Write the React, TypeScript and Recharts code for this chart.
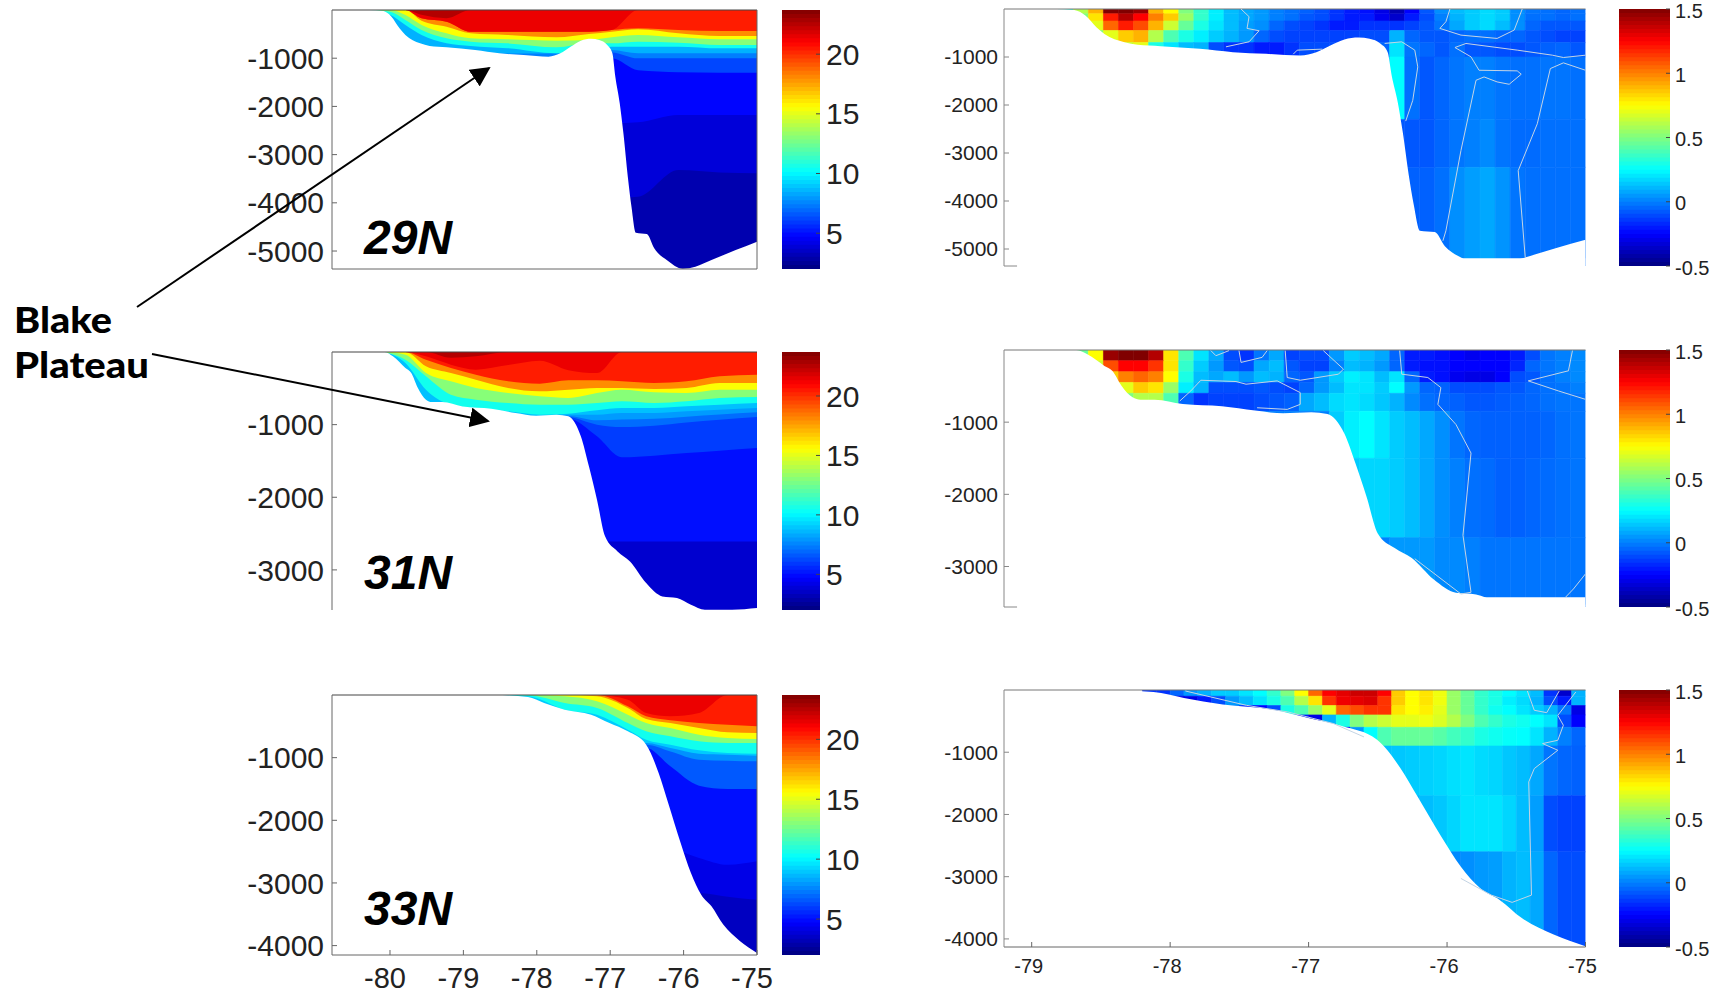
import { Area, Bar, Cell, ComposedChart, ReferenceLine, Scatter, XAxis, YAxis } from 'recharts';

// ---- seafloor, lon / depth in metres ----
const floorLon29 = [-80.79, -80.29, -80.09, -79.98, -79.87, -79.79, -79.59, -79.46, -79.23, -78.84, -78.51, -78.18, -77.84, -77.68, -77.54, -77.4, -77.26, -77.15, -77.04, -76.97, -76.93, -76.87, -76.82, -76.76, -76.71, -76.65, -76.5, -76.4, -76.23, -76.01, -75.84, -75.62, -75.29, -75];
const floorDepth29 = [0, 0, 21, 138, 380, 519, 692, 747, 775, 830, 899, 934, 968, 899, 761, 636, 595, 622, 726, 899, 1383, 1936, 2559, 3458, 4080, 4620, 4648, 4945, 5187, 5367, 5325, 5187, 4980, 4807];
const floorLon31 = [-80.79, -80.07, -79.96, -79.79, -79.71, -79.62, -79.51, -79.43, -79.29, -79.01, -78.62, -78.29, -78.01, -77.73, -77.57, -77.4, -77.29, -77.18, -77.07, -76.9, -76.73, -76.51, -76.29, -76.09, -75.9, -75.71, -75.34, -75];
const floorDepth31 = [0, 0, 60, 220, 290, 495, 656, 689, 689, 749, 780, 840, 877, 863, 886, 1161, 1574, 2034, 2538, 2745, 2883, 3181, 3365, 3388, 3480, 3548, 3548, 3525];
const floorLon33 = [-80.79, -78.57, -78.12, -77.9, -77.62, -77.26, -77.01, -76.76, -76.51, -76.34, -76.21, -76.04, -75.9, -75.76, -75.62, -75.46, -75.23, -75];
const floorDepth33 = [0, 0, 32, 128, 234, 314, 447, 580, 793, 1245, 1724, 2362, 2841, 3187, 3373, 3665, 3931, 4118];

// ---- temperature of each filled band ----
const bandNames = ['navy', 'deep', 'blue', 'azure', 'steel', 'sky', 'cyan', 'green', 'yellow', 'orange', 'red', 'crimson', 'maroon'];
const bandTemps29 = [3, 3.9, 4.8, 6.2, 7.4, 8.5, 10.5, 13, 15.5, 18, 20.4, 21.4, 22.6];
const bandTemps31 = [3.7, 5, 6, 7, 8, 8.8, 10.5, 13, 15.5, 18, 20.4, 21.4, 22.6];
const bandTemps33 = [3.4, 4.2, 5, 6.6, 7.8, 9, 10.5, 13, 15.5, 18, 20.4, 21.4, 22.6];

// ---- 29N: lower edge of each band ----
const bandLon29 = [-80.29, -80, -79.79, -79.57, -79.23, -78.9, -78.4, -77.73, -77.29, -76.98, -76.62, -76.07, -75.51, -75];
const bands29 = [
  [5373, 5373, 5373, 5373, 5373, 5373, 5373, 5373, 5373, 5373, 5373, 5373, 5373, 5373],
  [3900, 3900, 3900, 3900, 3900, 3900, 3900, 3900, 3900, 3900, 3873, 3320, 3370, 3389],
  [2351, 2351, 2351, 2351, 2351, 2351, 2351, 2351, 2351, 2351, 2330, 2178, 2178, 2178],
  [1300, 1300, 1300, 1300, 1300, 1300, 1300, 1300, 1300, 1000, 1250, 1290, 1300, 1300],
  [1003, 1003, 1003, 1003, 1003, 1003, 1003, 1003, 1003, 880, 1003, 1003, 1003, 1003],
  [900, 900, 900, 900, 900, 900, 900, 900, 900, 830, 899, 899, 899, 899],
  [0, 100, 311, 519, 692, 747, 795, 899, 830, 761, 761, 761, 795, 795],
  [0, 35, 207, 415, 588, 657, 692, 775, 692, 692, 657, 680, 726, 726],
  [0, 0, 104, 311, 484, 588, 609, 636, 622, 567, 519, 567, 609, 609],
  [0, 0, 0, 221, 346, 484, 519, 567, 498, 450, 400, 484, 539, 539],
  [0, 0, 0, 173, 242, 450, 450, 450, 450, 415, 380, 415, 436, 436],
  [0, 0, 0, 173, 242, 450, 450, 450, 450, 415, 0, 0, 0, 0],
  [0, 0, 0, 100, 170, 0, 0, 0, 0, 0, 0, 0, 0, 0],
];

// ---- 31N ----
const bandLon31 = [-80.07, -79.79, -79.51, -79.17, -78.83, -78.39, -77.96, -77.57, -77.18, -76.84, -76.4, -75.96, -75.51, -75];
const bands31 = [
  [3552, 3552, 3552, 3552, 3552, 3552, 3552, 3552, 3552, 3552, 3552, 3552, 3552, 3552],
  [2610, 2610, 2610, 2610, 2610, 2610, 2610, 2610, 2610, 2610, 2610, 2610, 2610, 2610],
  [880, 880, 880, 880, 880, 880, 880, 909, 1161, 1450, 1427, 1391, 1359, 1322],
  [880, 880, 880, 880, 880, 880, 880, 895, 1000, 1033, 1014, 969, 932, 895],
  [880, 880, 880, 880, 880, 880, 880, 880, 940, 930, 920, 890, 860, 830],
  [885, 885, 885, 885, 885, 885, 885, 863, 863, 840, 840, 817, 794, 771],
  [0, 151, 519, 725, 771, 817, 863, 849, 803, 771, 771, 748, 725, 702],
  [0, 106, 335, 588, 656, 702, 725, 725, 702, 679, 702, 679, 633, 620],
  [0, 37, 289, 404, 496, 565, 610, 633, 565, 519, 555, 565, 519, 519],
  [0, 0, 197, 289, 381, 496, 542, 519, 496, 496, 510, 496, 427, 427],
  [0, 0, 106, 220, 312, 404, 436, 390, 390, 404, 427, 404, 335, 312],
  [0, 0, 60, 174, 243, 180, 120, 250, 290, 0, 0, 0, 0, 0],
  [0, 0, 0, 80, 60, 0, 0, 0, 0, 0, 0, 0, 0, 0],
];

// ---- 33N ----
const bandLon33 = [-78.57, -78.12, -77.62, -77.18, -76.76, -76.51, -76.18, -75.79, -75.4, -75];
const bands33 = [
  [4150, 4150, 4150, 4150, 4150, 4150, 4150, 4150, 4150, 4150],
  [3200, 3200, 3200, 3200, 3200, 3200, 3200, 3160, 3220, 3270],
  [2470, 2470, 2470, 2470, 2470, 2470, 2470, 2600, 2710, 2655],
  [846, 846, 846, 846, 846, 846, 1139, 1447, 1500, 1500],
  [793, 793, 793, 793, 793, 793, 900, 1032, 1048, 1059],
  [766, 766, 766, 766, 766, 766, 846, 936, 952, 968],
  [5, 21, 234, 314, 553, 713, 793, 883, 926, 936],
  [0, 5, 128, 207, 447, 580, 660, 739, 766, 766],
  [0, 0, 21, 101, 314, 447, 527, 633, 686, 702],
  [0, 0, 0, 21, 207, 383, 447, 527, 596, 606],
  [0, 0, 0, 0, 181, 340, 404, 447, 473, 500],
  [0, 0, 0, 0, 74, 287, 340, 287, 0, 0],
];

// ---- anomaly grids, one array per depth row ----
const columnsWide = [-80.175, -80.025, -79.875, -79.725, -79.575, -79.425, -79.275, -79.125, -78.975, -78.825, -78.675, -78.525, -78.375, -78.225, -78.075, -77.925, -77.775, -77.625, -77.475, -77.325, -77.175, -77.025, -76.875, -76.725, -76.575, -76.425, -76.275, -76.125, -75.975, -75.825, -75.675, -75.525, -75.375, -75.225, -75.075];
const columnsNarrow = [-78.15, -78.05, -77.95, -77.85, -77.75, -77.65, -77.55, -77.45, -77.35, -77.25, -77.15, -77.05, -76.95, -76.85, -76.75, -76.65, -76.55, -76.45, -76.35, -76.25, -76.15, -76.05, -75.95, -75.85, -75.75, -75.65, -75.55, -75.45, -75.35, -75.25, -75.15, -75.05];

const rowEdges29 = [100, 250, 450, 700, 1000, 2300, 3300, 5354];
const anomaly29 = [
  [0.3, 0.6, 0.9, 1.5, 1.5, 1.45, 0.9, 0.75, 0.5, 0.35, 0.22, 0.12, 0.08, 0.05, 0, -0.03, -0.06, -0.1, -0.15, -0.2, -0.22, -0.3, -0.4, -0.25, -0.08, 0.03, 0.12, 0.15, 0.18, 0.15, 0.03, -0.02, -0.03, -0.05, -0.03],
  [0.3, 0.5, 0.8, 1.2, 1.4, 1.25, 1, 0.85, 0.55, 0.35, 0.22, 0.12, 0.08, 0.05, 0, -0.03, -0.08, -0.1, -0.15, -0.2, -0.2, -0.28, -0.35, -0.2, -0.1, 0, 0.1, 0.15, 0.18, 0.15, 0.03, -0.03, -0.03, -0.05, -0.03],
  [0.2, 0.4, 0.7, 1.05, 1.2, 1.1, 0.9, 0.65, 0.45, 0.3, 0.2, 0.12, 0.06, 0.03, -0.05, -0.1, -0.12, -0.15, -0.2, -0.2, -0.15, -0.15, -0.15, -0.12, -0.08, -0.02, 0.08, 0.15, 0.18, 0.12, 0.03, -0.05, -0.08, -0.08, -0.08],
  [0.2, 0.3, 0.5, 0.7, 0.85, 0.9, 0.6, 0.4, 0.3, 0.22, 0.15, 0.1, 0.05, -0.05, -0.1, -0.12, -0.12, -0.12, -0.12, -0.12, -0.1, -0.1, 0.1, -0.05, -0.08, -0.08, -0.05, -0.03, -0.03, -0.05, -0.05, -0.08, -0.1, -0.12, -0.12],
  [0.2, 0.2, 0.4, 0.5, 0.65, 0.7, 0.3, 0.2, 0.12, 0.1, -0.1, -0.15, -0.15, -0.2, -0.2, -0.15, -0.1, -0.1, -0.1, -0.1, -0.05, -0.05, 0.2, -0.02, -0.05, -0.08, -0.03, -0.08, -0.08, -0.1, -0.1, -0.08, -0.06, -0.05, -0.08],
  [0, 0, 0, 0, 0, 0, 0, 0, 0, 0, 0, 0, 0, 0, 0, 0, 0, 0, 0, 0, 0, 0, 0.25, -0.03, -0.08, -0.05, -0.02, 0, 0, -0.02, -0.03, -0.03, -0.02, -0.02, -0.03],
  [0, 0, 0, 0, 0, 0, 0, 0, 0, 0, 0, 0, 0, 0, 0, 0, 0, 0, 0, 0, 0, 0, -0.08, -0.08, -0.08, -0.05, -0.02, 0, 0.02, -0.02, -0.04, -0.04, -0.03, -0.03, -0.03],
  [0, 0, 0, 0, 0, 0, 0, 0, 0, 0, 0, 0, 0, 0, 0, 0, 0, 0, 0, 0, 0, 0, -0.06, -0.06, -0.06, -0.03, 0.03, 0.06, 0.08, 0.04, -0.02, -0.03, -0.03, -0.03, -0.03],
];

const rowEdges31 = [150, 300, 450, 600, 850, 1500, 2600, 3561];
const anomaly31 = [
  [0.2, 0.45, 0.75, 1.45, 1.5, 1.5, 1.4, 0.8, 0.4, 0.2, 0.08, -0.1, -0.15, -0.02, 0.08, -0.12, -0.1, -0.1, 0.05, 0.15, 0.12, 0.08, -0.05, -0.2, -0.2, -0.22, -0.25, -0.28, -0.25, -0.25, -0.2, -0.1, -0.02, 0, 0.02],
  [0.2, 0.4, 0.65, 1.1, 1.25, 1.25, 1.15, 0.8, 0.35, 0.15, 0.05, -0.08, -0.1, 0.08, 0.12, -0.08, -0.12, -0.12, 0, 0.12, 0.1, 0.05, -0.05, -0.2, -0.22, -0.22, -0.25, -0.25, -0.25, -0.25, -0.18, -0.05, -0.02, 0, 0.02],
  [0.2, 0.35, 0.5, 0.85, 1, 1.05, 1, 0.75, 0.3, 0.12, 0.08, 0.12, 0.05, 0.12, 0.1, -0.05, -0.08, 0.05, 0.15, 0.22, 0.2, 0.12, 0.2, -0.05, -0.2, -0.22, -0.28, -0.3, -0.3, -0.25, -0.1, -0.08, -0.03, 0, 0.02],
  [0.2, 0.3, 0.4, 0.55, 0.7, 0.85, 0.8, 0.55, 0.22, 0.1, -0.1, -0.1, -0.1, -0.08, -0.1, -0.12, -0.05, 0.05, 0.12, 0.2, 0.2, 0.15, 0.25, 0.05, -0.05, -0.06, -0.1, -0.1, -0.1, -0.08, -0.08, -0.05, -0.03, -0.02, 0],
  [0.2, 0.25, 0.3, 0.4, 0.5, 0.6, 0.6, 0.4, -0.05, -0.15, -0.12, -0.12, -0.12, -0.1, -0.08, -0.06, 0.08, 0.12, 0.18, 0.2, 0.18, 0.14, 0.1, 0.02, -0.03, -0.05, -0.06, -0.08, -0.08, -0.07, -0.06, -0.05, -0.03, -0.02, -0.02],
  [0, 0, 0, 0, 0, 0, 0, 0, 0, 0, 0, 0, 0, 0, 0, 0, 0, 0, 0.15, 0.22, 0.25, 0.2, 0.15, 0.12, 0.08, 0.03, -0.02, -0.05, -0.06, -0.06, -0.06, -0.06, -0.05, -0.03, -0.02],
  [0, 0, 0, 0, 0, 0, 0, 0, 0, 0, 0, 0, 0, 0, 0, 0, 0, 0, 0, 0.15, 0.17, 0.17, 0.15, 0.12, 0.08, 0.03, 0, -0.03, -0.04, -0.06, -0.06, -0.05, -0.04, -0.03, -0.02],
  [0, 0, 0, 0, 0, 0, 0, 0, 0, 0, 0, 0, 0, 0, 0, 0, 0, 0, 0, 0, 0, 0, 0.05, 0.05, 0.05, 0.02, 0.02, 0, -0.02, -0.02, -0.02, -0.02, -0.02, -0.02, -0.02],
];

const rowEdges33 = [100, 250, 400, 600, 900, 1700, 2600, 4130];
const anomaly33 = [
  [-0.15, -0.15, -0.05, 0.05, 0.1, 0.15, 0.15, 0.2, 0.25, 0.35, 0.5, 0.75, 1.05, 1.25, 1.3, 1.35, 1.35, 1.25, 0.85, 0.75, 0.8, 0.72, 0.55, 0.45, 0.35, 0.3, 0.25, 0.2, 0.12, -0.15, -0.35, 0.1],
  [-0.2, -0.25, -0.3, -0.3, -0.2, -0.1, 0.05, 0.12, 0.2, 0.3, 0.4, 0.6, 0.8, 1.15, 1.28, 1.3, 1.32, 1.15, 0.85, 0.75, 0.8, 0.72, 0.55, 0.45, 0.35, 0.3, 0.22, 0.18, 0.1, -0.1, -0.2, 0.1],
  [0, 0, 0, 0, 0, 0, 0, -0.2, -0.25, -0.1, 0.3, 0.4, 0.55, 0.7, 1.05, 1.1, 1.15, 1.15, 0.8, 0.75, 0.78, 0.7, 0.55, 0.45, 0.35, 0.28, 0.25, 0.2, 0.15, 0.1, -0.02, -0.3],
  [0, 0, 0, 0, 0, 0, 0, 0, 0, 0, 0, -0.2, -0.3, 0.1, 0.3, 0.5, 0.6, 0.65, 0.7, 0.7, 0.72, 0.68, 0.6, 0.5, 0.4, 0.35, 0.3, 0.28, 0.25, 0.2, -0.1, -0.25],
  [0, 0, 0, 0, 0, 0, 0, 0, 0, 0, 0, 0, 0, -0.2, -0.25, 0.05, 0.25, 0.4, 0.45, 0.45, 0.45, 0.42, 0.38, 0.35, 0.3, 0.28, 0.26, 0.25, 0.2, 0.1, 0, -0.05],
  [0, 0, 0, 0, 0, 0, 0, 0, 0, 0, 0, 0, 0, 0, 0, 0, 0.12, 0.13, 0.14, 0.15, 0.16, 0.17, 0.19, 0.2, 0.18, 0.17, 0.14, 0.12, 0.08, -0.02, -0.05, -0.06],
  [0, 0, 0, 0, 0, 0, 0, 0, 0, 0, 0, 0, 0, 0, 0, 0, 0, 0, 0, 0.1, 0.12, 0.14, 0.17, 0.2, 0.2, 0.2, 0.17, 0.12, 0.06, -0.1, -0.12, -0.12],
  [0, 0, 0, 0, 0, 0, 0, 0, 0, 0, 0, 0, 0, 0, 0, 0, 0, 0, 0, 0, 0, 0, 0.02, 0.03, 0.05, 0.06, 0.1, 0.12, 0.08, -0.05, -0.1, -0.1],
];

// ---- zero contours: [lon...], [depth...] ----
const contours29: number[][][] = [
  [[-78.43, -78.35, -78.37, -78.25, -78.35, -78.58], [0, 160, 404, 453, 683, 788]],
  [[-77.91, -77.87, -77.62], [941, 857, 836]],
  [[-76.35, -76.39, -76.45, -76.24, -75.88, -75.71, -75.63], [0, 265, 404, 544, 613, 439, 0]],
  [[-77, -76.83, -76.7, -76.67, -76.72, -76.79], [718, 683, 857, 1206, 1903, 2335]],
  [[-75, -75.22, -75.33, -75.68, -76.19, -76.3, -76.14, -76.06, -75.68, -75.64, -75.76, -75.88, -76.01, -76.09, -76.24, -76.39, -76.42], [962, 1011, 962, 857, 718, 802, 997, 1276, 1289, 1359, 1568, 1519, 1415, 1485, 2948, 4621, 4830]],
  [[-75, -75.22, -75.35, -75.48, -75.67, -75.6], [1276, 1122, 1241, 2391, 3367, 5179]],
];
const contours31: number[][][] = [
  [[-79.04, -78.93, -78.83, -78.48, -78.38, -78.07, -77.84, -77.84, -77.97, -78.27], [707, 567, 419, 437, 474, 428, 591, 753, 823, 800]],
  [[-78.73, -78.68, -78.55], [9, 79, 9]],
  [[-78.45, -78.43, -78.22, -78.17], [9, 172, 102, 9]],
  [[-77.99, -77.97, -77.84, -77.46, -77.41, -77.61], [9, 381, 419, 335, 265, 9]],
  [[-76.85, -76.83, -76.57, -76.44, -76.47, -76.29, -76.14, -76.22, -76.14, -76.24, -76.7], [9, 335, 381, 521, 753, 1032, 1428, 2567, 3357, 3381, 2892]],
  [[-75.13, -75.17, -75.57, -75.27, -75], [9, 288, 428, 567, 684]],
  [[-75, -75.12, -75.2], [3102, 3311, 3427]],
];
const contours33: number[][][] = [
  [[-77.89, -77.45, -77.15, -76.82, -76.6], [16, 246, 353, 540, 754]],
  [[-75.9, -75.68, -75.53, -75.39, -75.41, -75.37, -75.2, -75.31, -75.2, -75.16, -75.2, -75.07], [3028, 3296, 3413, 3296, 1477, 1263, 968, 861, 808, 567, 407, 32]],
  [[-75.42, -75.37, -75.28, -75.19], [16, 326, 364, 16]],
];

const lonTicksLeft = [-80, -79, -78, -77, -76, -75];
const lonTicksRight = [-79, -78, -77, -76, -75];
const depthTicks29 = [-5000, -4000, -3000, -2000, -1000];
const depthTicks31 = [-3000, -2000, -1000];
const depthTicks33 = [-4000, -3000, -2000, -1000];
const tempTicks = [5, 10, 15, 20];
const anomalyTicks = [-0.5, 0, 0.5, 1, 1.5];

const FONT = '"Liberation Sans", Arial, sans-serif';
const AXIS = '#666';
const TEXT = '#222';

// matlab jet
const clamp = (v: number) => Math.max(0, Math.min(1, v));
const jet = (t: number) => {
  const ch = (c: number) => Math.round(255 * clamp(1.5 - Math.abs(4 * t - c)));
  return `rgb(${ch(3)},${ch(2)},${ch(1)})`;
};
const tempColor = (v: number) => jet((v - 2) / 21.7);
const anomalyColor = (v: number) => jet((v + 0.5) / 2);

// joins several series that have their own longitudes into one table
const mergeRows = (series: { key: string; lon: number[]; values: number[] }[]) => {
  const rows = new Map<number, any>();
  series.forEach(({ key, lon, values }) => {
    lon.forEach((x, i) => {
      const row = rows.get(x) ?? { lon: x };
      row[key] = values[i];
      rows.set(x, row);
    });
  });
  return [...rows.values()].sort((a, b) => a.lon - b.lon);
};

const TemperaturePanel = ({ top, height, bottom, floorLon, floorDepth, bandLon, bands, temps, ticks, labelled, closed }: any) => {
  const table = mergeRows([
    { key: 'floor', lon: floorLon, values: floorDepth.map((d: number) => -d) },
    ...bands.map((b: number[], i: number) => ({ key: bandNames[i], lon: bandLon, values: b.map((d) => -d) })),
  ]);
  return (
    <div style={{ position: 'absolute', left: 232, top: top - 10 }}>
      <ComposedChart width={560} height={height + 60} data={table} margin={{ top: 10, right: 35, bottom: 0, left: 0 }}>
        {bands.map((_: number[], i: number) => (
          <Area key={bandNames[i]} dataKey={bandNames[i]} baseValue={0} type="monotoneX" connectNulls stroke="none" fill={tempColor(temps[i])} fillOpacity={1} isAnimationActive={false} dot={false} activeDot={false} />
        ))}
        <Area dataKey="floor" baseValue={-bottom} type="monotoneX" connectNulls stroke="none" fill="#fff" fillOpacity={1} isAnimationActive={false} dot={false} activeDot={false} />
        <XAxis
          dataKey="lon"
          type="number"
          scale="linear"
          domain={[-80.79, -75]}
          allowDataOverflow
          ticks={lonTicksLeft}
          interval={0}
          height={50}
          tick={labelled ? { fontSize: 29, fontFamily: FONT, fill: TEXT, dx: -5 } : false}
          tickSize={-5}
          tickMargin={17}
          axisLine={closed ? { stroke: AXIS } : false}
          tickLine={{ stroke: AXIS }}
        />
        <YAxis
          type="number"
          domain={[-bottom, 0]}
          allowDataOverflow
          ticks={ticks}
          interval={0}
          width={100}
          tick={{ fontSize: 30, fontFamily: FONT, fill: TEXT }}
          tickSize={-5}
          tickMargin={13}
          axisLine={{ stroke: AXIS }}
          tickLine={{ stroke: AXIS }}
        />
        <ReferenceLine y={0} stroke="#444" />
        {closed && <ReferenceLine x={-75} stroke={AXIS} />}
      </ComposedChart>
    </div>
  );
};

// bars draw above areas inside one chart, so the grid gets its own chart under the seafloor mask
const HeatGrid = ({ top, height, bottom, xMin, columns, rowEdges, anomaly, barSize }: any) => {
  const table = columns.map((lon: number) => {
    const row: any = { lon };
    rowEdges.forEach((edge: number, r: number) => {
      row[`r${r}`] = -(edge - (r ? rowEdges[r - 1] : 0));
    });
    return row;
  });
  return (
    <div style={{ position: 'absolute', left: 924, top: top - 10 }}>
      <ComposedChart width={700} height={height + 50} data={table} margin={{ top: 10, right: 38.5, bottom: 40, left: 80 }}>
        {rowEdges.map((_: number, r: number) => (
          <Bar key={r} dataKey={`r${r}`} stackId="grid" barSize={barSize} isAnimationActive={false}>
            {columns.map((_c: number, c: number) => {
              const color = anomalyColor(anomaly[r][c]);
              return <Cell key={c} fill={color} stroke={color} strokeWidth={0.6} />;
            })}
          </Bar>
        ))}
        <XAxis dataKey="lon" type="number" scale="linear" domain={[xMin, -75]} allowDataOverflow hide />
        <YAxis type="number" domain={[-bottom, 0]} allowDataOverflow hide />
      </ComposedChart>
    </div>
  );
};

const AnomalyMask = ({ top, height, bottom, cut, xMin, floorLon, floorDepth, contours, ticks, labelled }: any) => {
  const table = mergeRows([
    { key: 'floor', lon: floorLon.map((x: number) => Math.max(x, xMin)), values: floorDepth.map((d: number) => -d) },
    ...(cut ? [{ key: 'cut', lon: [xMin, -75], values: [-cut, -cut] }] : []),
  ]);
  return (
    <div style={{ position: 'absolute', left: 924, top: top - 10 }}>
      <ComposedChart width={700} height={height + 50} data={table} margin={{ top: 10, right: 38.5, bottom: 0, left: 0 }}>
        <Area dataKey="floor" baseValue={-bottom} type="monotoneX" connectNulls stroke="none" fill="#fff" fillOpacity={1} isAnimationActive={false} dot={false} activeDot={false} />
        {cut && <Area dataKey="cut" baseValue={-bottom} type="linear" connectNulls stroke="none" fill="#fff" fillOpacity={1} isAnimationActive={false} dot={false} activeDot={false} />}
        {contours.map((line: number[][], i: number) => (
          <Scatter
            key={i}
            data={line[0].map((lon, k) => ({ lon, depth: -line[1][k] }))}
            line={{ stroke: '#c4d4e4', strokeWidth: 1 }}
            shape={() => <g />}
            isAnimationActive={false}
          />
        ))}
        <XAxis
          dataKey="lon"
          type="number"
          scale="linear"
          domain={[xMin, -75]}
          allowDataOverflow
          ticks={labelled ? lonTicksRight : []}
          interval={0}
          height={40}
          tick={labelled ? { fontSize: 20, fontFamily: FONT, fill: TEXT, dx: -3 } : false}
          tickSize={-5}
          tickMargin={17}
          axisLine={labelled ? { stroke: AXIS } : false}
          tickLine={labelled ? { stroke: AXIS } : false}
        />
        <YAxis
          dataKey="depth"
          type="number"
          domain={[-bottom, 0]}
          allowDataOverflow
          ticks={ticks}
          interval={0}
          width={80}
          tick={{ fontSize: 21, fontFamily: FONT, fill: TEXT }}
          tickSize={-5}
          tickMargin={11}
          axisLine={{ stroke: '#888' }}
          tickLine={{ stroke: '#888' }}
        />
        <ReferenceLine y={0} stroke="#777" />
        {!labelled && <ReferenceLine segment={[{ x: xMin, y: -bottom }, { x: xMin + 0.13, y: -bottom }]} stroke="#888" />}
      </ComposedChart>
    </div>
  );
};

// 64 level colour bar, same as the matlab one
const ColorBar = ({ left, top, height, min, max, ticks, color, fontSize, width, labelGap, shift }: any) => {
  const levels = Array.from({ length: 64 }, (_, i) => i);
  const step = (max - min) / 64;
  const edge: any = {};
  levels.forEach((i) => {
    edge[`l${i}`] = min + (i + 1) * step;
  });
  const table = [{ x: 0, ...edge }, { x: 1, ...edge }];
  return (
    <div style={{ position: 'absolute', left, top: top - 20 }}>
      <ComposedChart width={width + 56} height={height + 40} data={table} margin={{ top: 20, right: 0, bottom: 20, left: 0 }}>
        {[...levels].reverse().map((i) => (
          <Area key={i} dataKey={`l${i}`} baseValue={min} type="linear" stroke="none" fill={color(min + (i + 0.5) * step)} fillOpacity={1} isAnimationActive={false} dot={false} activeDot={false} />
        ))}
        <XAxis dataKey="x" type="number" domain={[0, 1]} hide />
        <YAxis
          type="number"
          orientation="right"
          domain={[min, max]}
          allowDataOverflow
          ticks={ticks}
          interval={0}
          width={56}
          tick={{ fontSize, fontFamily: FONT, fill: TEXT, dy: shift }}
          tickSize={-4}
          tickMargin={labelGap}
          axisLine={false}
          tickLine={{ stroke: '#444' }}
        />
      </ComposedChart>
    </div>
  );
};

const Annotations = () => (
  <svg width={1731} height={994} style={{ position: 'absolute', left: 0, top: 0, pointerEvents: 'none' }}>
    <defs>
      <marker id="head" viewBox="0 0 10 10" refX="9" refY="5" markerWidth="10" markerHeight="10" orient="auto">
        <path d="M0,0 L10,5 L0,10 z" fill="#000" />
      </marker>
    </defs>
    <line x1={137} y1={307} x2={489} y2={68} stroke="#000" strokeWidth={2} markerEnd="url(#head)" />
    <line x1={152} y1={354} x2={488} y2={421} stroke="#000" strokeWidth={2} markerEnd="url(#head)" />
    <g fontFamily="Lato, sans-serif" fontWeight={900} fontSize={36} fill="#000">
      <text x={14} y={333} textLength={98} lengthAdjust="spacingAndGlyphs">Blake</text>
      <text x={14} y={378} textLength={135} lengthAdjust="spacingAndGlyphs">Plateau</text>
    </g>
    <g fontFamily={FONT} fontWeight={700} fontStyle="italic" fontSize={48} fill="#000">
      <text x={364} y={254}>29N</text>
      <text x={364} y={589}>31N</text>
      <text x={364} y={925}>33N</text>
    </g>
  </svg>
);

export default function App() {
  return (
    <div style={{ position: 'absolute', left: 0, top: 0, width: 1731, height: 994, background: '#fff', overflow: 'hidden' }}>
      <TemperaturePanel top={10} height={259} bottom={5373} floorLon={floorLon29} floorDepth={floorDepth29} bandLon={bandLon29} bands={bands29} temps={bandTemps29} ticks={depthTicks29} closed />
      <TemperaturePanel top={352} height={258} bottom={3552} floorLon={floorLon31} floorDepth={floorDepth31} bandLon={bandLon31} bands={bands31} temps={bandTemps31} ticks={depthTicks31} />
      <TemperaturePanel top={695} height={260} bottom={4150} floorLon={floorLon33} floorDepth={floorDepth33} bandLon={bandLon33} bands={bands33} temps={bandTemps33} ticks={depthTicks33} labelled closed />

      <ColorBar left={782} top={10} height={259} min={2} max={23.7} ticks={tempTicks} color={tempColor} fontSize={30} width={38} labelGap={10} shift={0} />
      <ColorBar left={782} top={352} height={258} min={2} max={23.7} ticks={tempTicks} color={tempColor} fontSize={30} width={38} labelGap={10} shift={0} />
      <ColorBar left={782} top={695} height={260} min={2} max={23.7} ticks={tempTicks} color={tempColor} fontSize={30} width={38} labelGap={10} shift={0} />

      <HeatGrid top={9} height={257} bottom={5354} xMin={-80.79} columns={columnsWide} rowEdges={rowEdges29} anomaly={anomaly29} barSize={15} />
      <AnomalyMask top={9} height={257} bottom={5354} cut={5190} xMin={-80.79} floorLon={floorLon29} floorDepth={floorDepth29} contours={contours29} ticks={depthTicks29} />
      <HeatGrid top={350} height={257} bottom={3561} xMin={-80.79} columns={columnsWide} rowEdges={rowEdges31} anomaly={anomaly31} barSize={15} />
      <AnomalyMask top={350} height={257} bottom={3561} cut={3427} xMin={-80.79} floorLon={floorLon31} floorDepth={floorDepth31} contours={contours31} ticks={depthTicks31} />
      <HeatGrid top={690} height={257} bottom={4130} xMin={-79.2} columns={columnsNarrow} rowEdges={rowEdges33} anomaly={anomaly33} barSize={13.8} />
      <AnomalyMask top={690} height={257} bottom={4130} xMin={-79.2} floorLon={floorLon33} floorDepth={floorDepth33} contours={contours33} ticks={depthTicks33} labelled />

      <ColorBar left={1619} top={9} height={257} min={-0.5} max={1.5} ticks={anomalyTicks} color={anomalyColor} fontSize={20} width={51} labelGap={9} shift={1.5} />
      <ColorBar left={1619} top={350} height={257} min={-0.5} max={1.5} ticks={anomalyTicks} color={anomalyColor} fontSize={20} width={51} labelGap={9} shift={1.5} />
      <ColorBar left={1619} top={690} height={257} min={-0.5} max={1.5} ticks={anomalyTicks} color={anomalyColor} fontSize={20} width={51} labelGap={9} shift={1.5} />

      <Annotations />
    </div>
  );
}
